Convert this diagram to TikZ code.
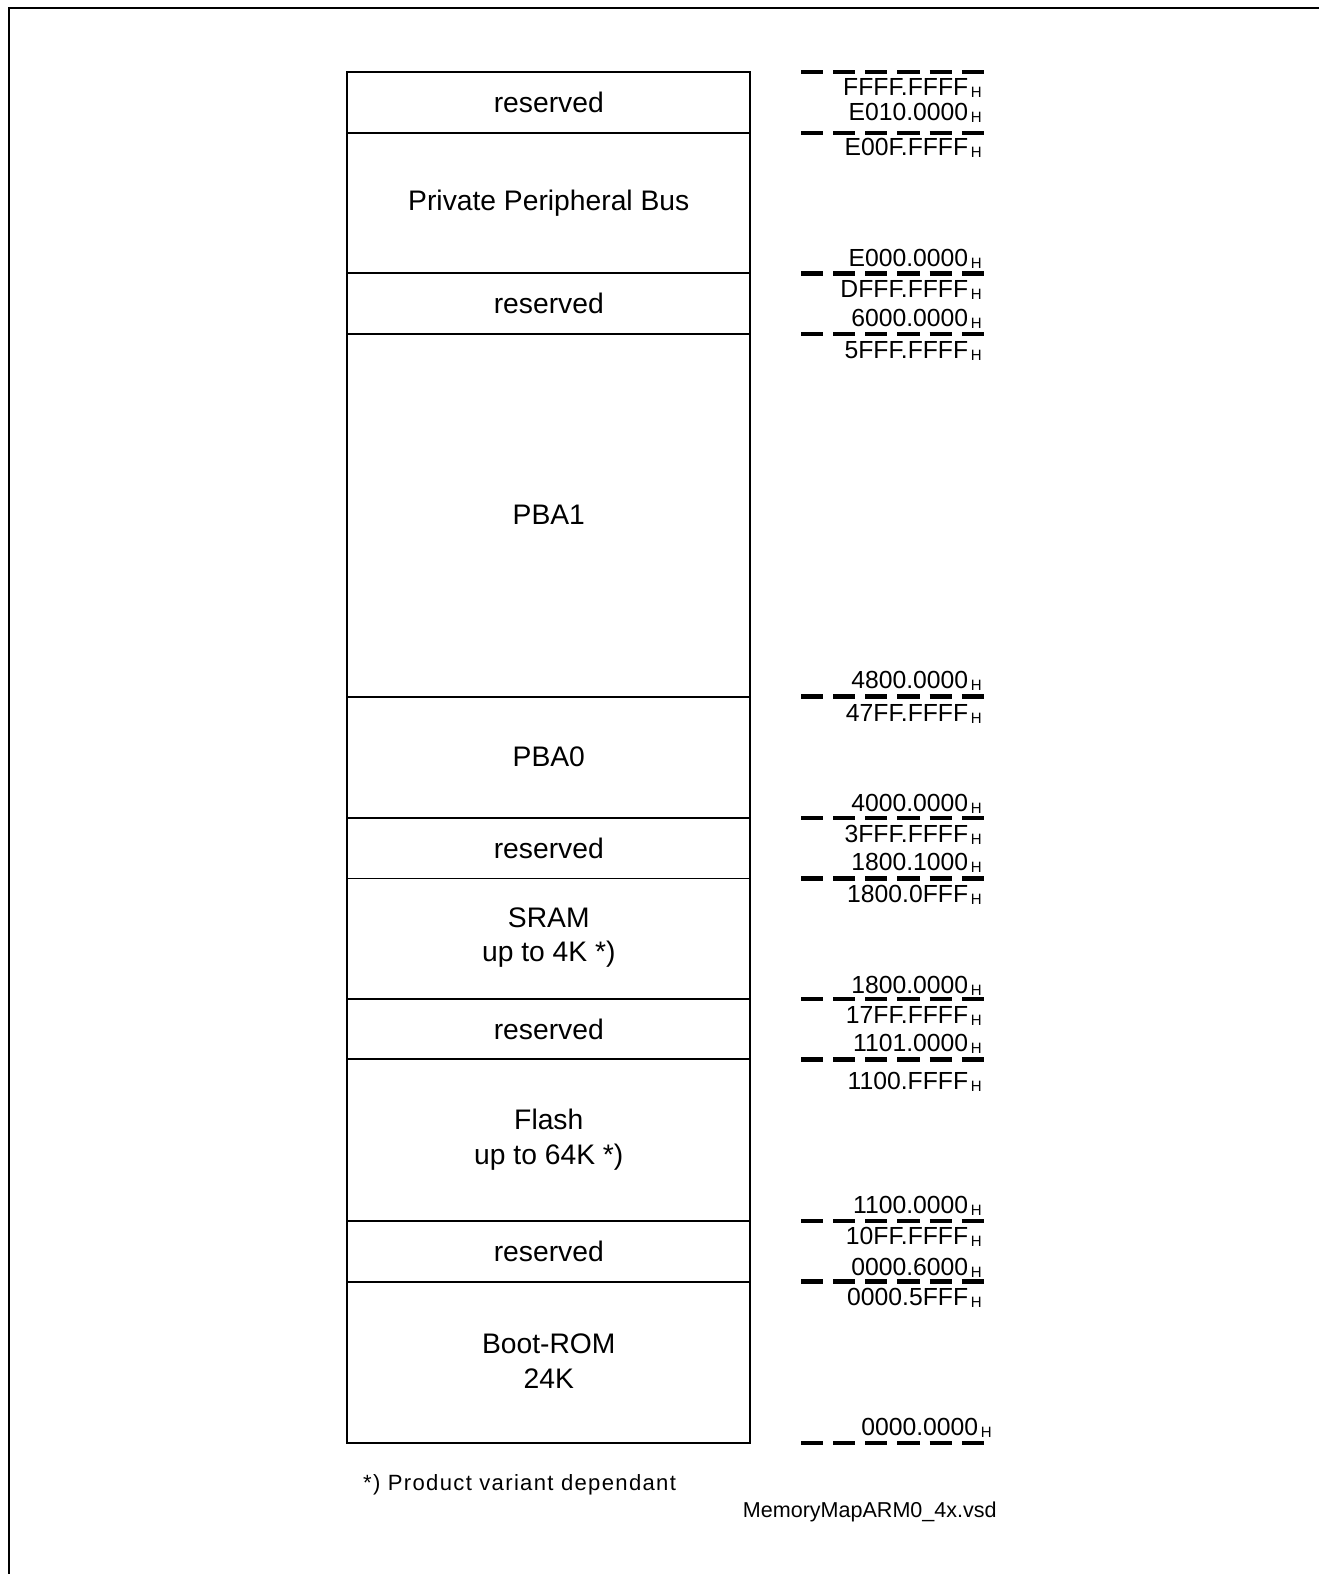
\documentclass[tikz,border=0pt]{standalone}
\usepackage{fontspec}
\setmainfont{Liberation Sans}

\newcommand{\hx}[1]{#1\kern1.5pt\raisebox{-1.2pt}{\fontsize{8.5}{9}\selectfont H}}

\begin{document}
\begin{tikzpicture}[x=0.02cm, y=-0.02cm,
	region/.style={align=center, font=\fontsize{16}{19.5}\selectfont},
	addr/.style={anchor=base east, inner sep=0pt, font=\fontsize{14}{16}\selectfont},
	bound/.style={line width=2.4pt, dash pattern=on 12.5pt off 5.7pt},
	frameline/.style={line width=1.1pt}]
	
	\draw[frameline] (1319,8) -- (9,8) -- (9,1574);
	
	% memory blocks
	\draw[frameline] (345,72) rectangle (746,1436);
	\foreach \y in {132,272,332,693,814,874,994,1054,1215,1275}
		\draw[frameline] (345,\y) -- (746,\y);
	
	% boundary marks
	\foreach \y in {72,132,272,332,693,814,874,994,1054,1215,1275,1436}
		\draw[bound] (797,\y) -- (979,\y);
	
	\node[region] (rsvA) at (546,102) {reserved};
	\node[region] (ppb) at (546,202) {Private Peripheral Bus};
	\node[region] (rsvB) at (546,302) {reserved};
	\node[region] (pba1) at (546,512) {PBA1};
	\node[region] (pba0) at (546,753) {PBA0};
	\node[region] (rsvC) at (546,844) {reserved};
	\node[region] (sram) at (546,933) {SRAM\\up to 4K *)};
	\node[region] (rsvD) at (546,1024) {reserved};
	\node[region] (flash) at (546,1134) {Flash\\up to 64K *)};
	\node[region] (rsvE) at (546,1245) {reserved};
	\node[region] (brom) at (546,1354) {Boot-ROM\\24K};
	
	% addresses
	\node[addr] (a1) at (977,95) {\hx{FFFF.FFFF}};
	\node[addr] (a2) at (977,120) {\hx{E010.0000}};
	\node[addr] (a3) at (977,155) {\hx{E00F.FFFF}};
	\node[addr] (a4) at (977,265) {\hx{E000.0000}};
	\node[addr] (a5) at (977,296) {\hx{DFFF.FFFF}};
	\node[addr] (a6) at (977,325) {\hx{6000.0000}};
	\node[addr] (a7) at (977,357) {\hx{5FFF.FFFF}};
	\node[addr] (a8) at (977,685) {\hx{4800.0000}};
	\node[addr] (a9) at (977,718) {\hx{47FF.FFFF}};
	\node[addr] (a10) at (977,807) {\hx{4000.0000}};
	\node[addr] (a11) at (977,838) {\hx{3FFF.FFFF}};
	\node[addr] (a12) at (977,866) {\hx{1800.1000}};
	\node[addr] (a13) at (977,898) {\hx{1800.0FFF}};
	\node[addr] (a14) at (977,988) {\hx{1800.0000}};
	\node[addr] (a15) at (977,1018) {\hx{17FF.FFFF}};
	\node[addr] (a16) at (977,1046) {\hx{1101.0000}};
	\node[addr] (a17) at (977,1084) {\hx{1100.FFFF}};
	\node[addr] (a18) at (977,1207) {\hx{1100.0000}};
	\node[addr] (a19) at (977,1238) {\hx{10FF.FFFF}};
	\node[addr] (a20) at (977,1269) {\hx{0000.6000}};
	\node[addr] (a21) at (977,1299) {\hx{0000.5FFF}};
	\node[addr] (a22) at (987,1428) {\hx{0000.0000}};
	
	\node[anchor=base west, inner sep=0pt, font=\fontsize{12.5}{14}\selectfont\addfontfeature{LetterSpace=6}] (note) at (361,1483) {*) Product variant dependant};
	\node[anchor=base east, inner sep=0pt, font=\fontsize{12.2}{14}\selectfont] (file) at (992,1510) {MemoryMapARM0\_4x.vsd};
	
	\pgfresetboundingbox
	\useasboundingbox (0,0) rectangle (1312,1566);
\end{tikzpicture}
\end{document}
